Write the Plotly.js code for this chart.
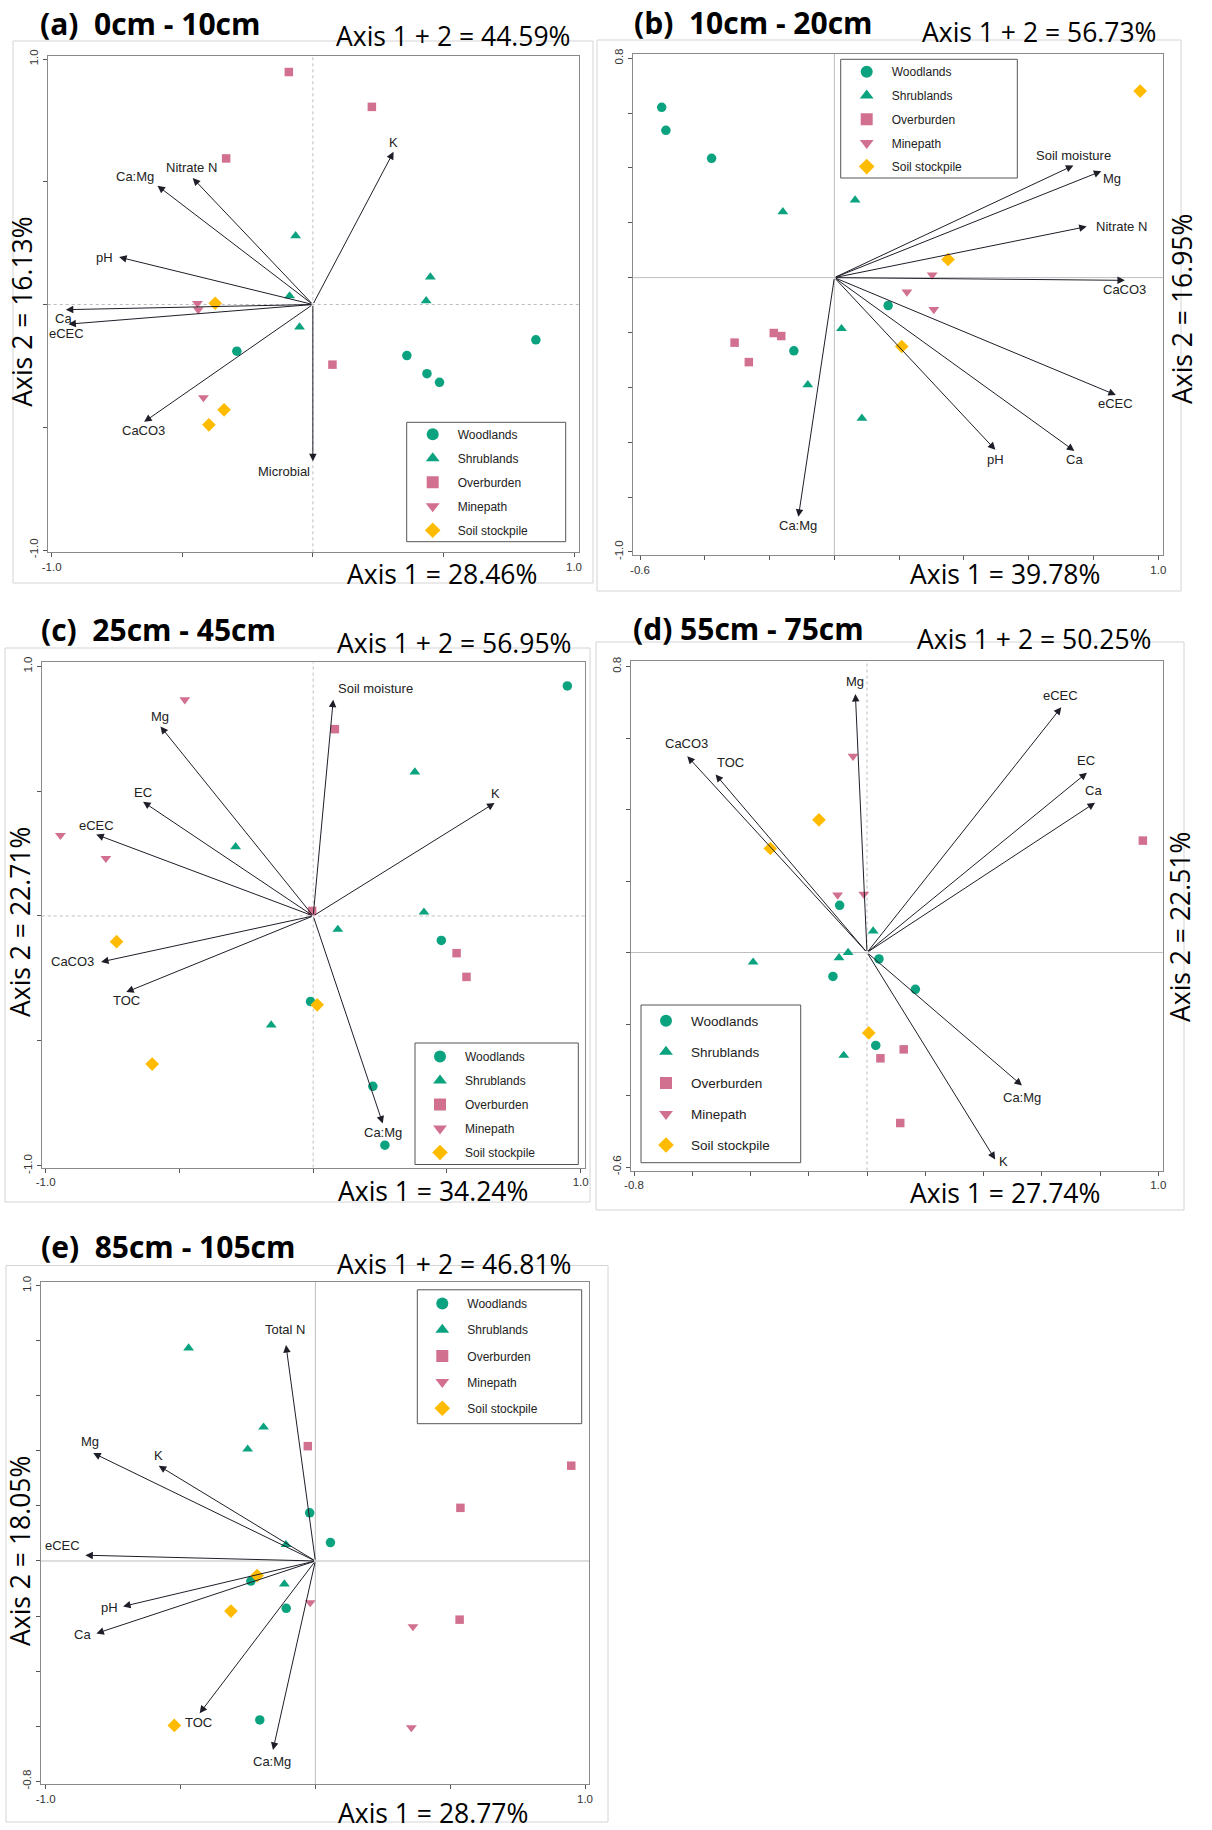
<!DOCTYPE html>
<html><head><meta charset="utf-8">
<script src="https://cdn.plot.ly/plotly-3.0.1.min.js"></script>
<style>body{margin:0;padding:0;background:#fff}</style>
</head><body><div id="chart" style="width:1212px;height:1830px"></div>
<script>
// ---------------- DATA ----------------
const groups = ['Woodlands','Shrublands','Overburden','Minepath','Soil stockpile'];

// Panel (a) 0cm - 10cm
const aTitle = '(a)\u00a0\u00a00cm - 10cm', aSum = 'Axis 1 + 2 = 44.59%', aAx1 = 'Axis 1 = 28.46%', aAx2 = 'Axis 2 = 16.13%';
const aWoodX = [0.854, 0.360, 0.437, 0.485, -0.291], aWoodY = [-0.144, -0.208, -0.282, -0.317, -0.190];
const aShrubX = [-0.066, -0.089, -0.051, 0.450, 0.434], aShrubY = [0.280, 0.035, -0.092, 0.112, 0.015];
const aOverX = [-0.092, -0.332, 0.226, 0.075], aOverY = [0.947, 0.595, 0.805, -0.245];
const aMineX = [-0.442, -0.439, -0.419], aMineY = [0.005, -0.021, -0.379];
const aStockX = [-0.374, -0.340, -0.398], aStockY = [0.005, -0.429, -0.490];
const aVars = ['Ca:Mg','Nitrate N','pH','Ca','eCEC','CaCO3','Microbial','K'];
const aVecX = [-0.595, -0.460, -0.742, -0.946, -0.936, -0.646, 0.000, 0.309];
const aVecY = [0.484, 0.515, 0.193, -0.021, -0.080, -0.478, -0.639, 0.622];
const aLabX = [-0.681, -0.464, -0.796, -0.955, -0.945, -0.649, -0.110, 0.309];
const aLabY = [0.521, 0.559, 0.193, -0.057, -0.118, -0.513, -0.680, 0.659];
const aXTicks = [-1, -0.5, 0, 0.5, 1], aXTickText = ['-1.0','','','','1.0'];
const aYTicks = [-1, -0.5, 0, 0.5, 1], aYTickText = ['-1.0','','','','1.0'];

// Panel (b) 10cm - 20cm
const bTitle = '(b)\u00a0\u00a010cm - 20cm', bSum = 'Axis 1 + 2 = 56.73%', bAx1 = 'Axis 1 = 39.78%', bAx2 = 'Axis 2 = 16.95%';
const bWoodX = [-0.533, -0.520, -0.379, 0.166, -0.125], bWoodY = [0.621, 0.537, 0.435, -0.102, -0.267];
const bShrubX = [-0.159, 0.064, 0.022, -0.082, 0.085], bShrubY = [0.240, 0.283, -0.186, -0.391, -0.513];
const bOverX = [-0.308, -0.187, -0.164, -0.264], bOverY = [-0.237, -0.202, -0.213, -0.308];
const bMineX = [0.302, 0.224, 0.307], bMineY = [0.010, -0.052, -0.116];
const bStockX = [0.944, 0.351, 0.208], bStockY = [0.680, 0.066, -0.251];
const bVars = ['Ca:Mg','Soil moisture','Mg','Nitrate N','CaCO3','eCEC','pH','Ca'];
const bVecX = [-0.111, 0.738, 0.824, 0.779, 0.897, 0.869, 0.497, 0.741];
const bVecY = [-0.872, 0.409, 0.388, 0.186, -0.010, -0.428, -0.628, -0.632];
const bLabX = [-0.113, 0.738, 0.858, 0.887, 0.897, 0.869, 0.497, 0.741];
const bLabY = [-0.904, 0.447, 0.363, 0.188, -0.042, -0.460, -0.663, -0.663];
const bXTicks = [-0.6, -0.4, -0.2, 0, 0.2, 0.4, 0.6, 0.8, 1.0], bXTickText = ['-0.6','','','','','','','','1.0'];
const bYTicks = [-1.0, -0.8, -0.6, -0.4, -0.2, 0, 0.2, 0.4, 0.6, 0.8], bYTickText = ['-1.0','','','','','','','','','0.8'];

// Panel (c) 25cm - 45cm
const cTitle = '(c)\u00a0\u00a025cm - 45cm', cSum = 'Axis 1 + 2 = 56.95%', cAx1 = 'Axis 1 = 34.24%', cAx2 = 'Axis 2 = 22.71%';
const cWoodX = [0.950, 0.479, -0.010, 0.223, 0.268], cWoodY = [0.921, -0.098, -0.343, -0.682, -0.918];
const cShrubX = [-0.290, -0.157, 0.380, 0.414, 0.092], cShrubY = [0.277, -0.437, 0.576, 0.015, -0.054];
const cOverX = [0.081, -0.004, 0.536, 0.573], cOverY = [0.748, 0.020, -0.149, -0.244];
const cMineX = [-0.480, -0.945, -0.775], cMineY = [0.866, 0.323, 0.231];
const cStockX = [-0.735, -0.602, 0.015], cStockY = [-0.103, -0.593, -0.356];
const cVars = ['Mg','EC','eCEC','CaCO3','TOC','Soil moisture','K','Ca:Mg'];
const cVecX = [-0.571, -0.636, -0.811, -0.793, -0.699, 0.075, 0.678, 0.260];
const cVecY = [0.759, 0.457, 0.326, -0.184, -0.305, 0.866, 0.452, -0.831];
const cLabX = [-0.573, -0.636, -0.811, -0.901, -0.699, 0.234, 0.680, 0.260];
const cLabY = [0.797, 0.495, 0.362, -0.184, -0.340, 0.909, 0.490, -0.866];
const cXTicks = [-1, -0.5, 0, 0.5, 1], cXTickText = ['-1.0','','','','1.0'];
const cYTicks = [-1, -0.5, 0, 0.5, 1], cYTickText = ['-1.0','','','','1.0'];

// Panel (d) 55cm - 75cm
const dTitle = '(d) 55cm - 75cm', dSum = 'Axis 1 + 2 = 50.25%', dAx1 = 'Axis 1 = 27.74%', dAx2 = 'Axis 2 = 22.51%';
const dWoodX = [-0.094, 0.041, -0.117, 0.030, 0.166], dWoodY = [0.132, -0.018, -0.067, -0.260, -0.103];
const dShrubX = [0.021, -0.065, -0.096, -0.391, -0.080], dShrubY = [0.060, 0.000, -0.015, -0.027, -0.288];
const dOverX = [0.947, 0.046, 0.126, 0.114], dOverY = [0.313, -0.296, -0.271, -0.477];
const dMineX = [-0.048, -0.101, -0.011], dMineY = [0.549, 0.161, 0.163];
const dStockX = [-0.165, -0.332, 0.006], dStockY = [0.371, 0.291, -0.225];
const dVars = ['Mg','CaCO3','TOC','eCEC','EC','Ca','Ca:Mg','K'];
const dVecX = [-0.040, -0.617, -0.520, 0.667, 0.755, 0.783, 0.532, 0.440];
const dVecY = [0.723, 0.549, 0.498, 0.686, 0.503, 0.419, -0.372, -0.579];
const dLabX = [-0.043, -0.621, -0.469, 0.663, 0.752, 0.778, 0.532, 0.469];
const dLabY = [0.759, 0.585, 0.531, 0.719, 0.536, 0.452, -0.405, -0.586];
const dXTicks = [-0.8, -0.6, -0.4, -0.2, 0, 0.2, 0.4, 0.6, 0.8, 1.0], dXTickText = ['-0.8','','','','','','','','','1.0'];
const dYTicks = [-0.6, -0.4, -0.2, 0, 0.2, 0.4, 0.6, 0.8], dYTickText = ['-0.6','','','','','','','0.8'];

// Panel (e) 85cm - 105cm
const eTitle = '(e)\u00a0\u00a085cm - 105cm', eSum = 'Axis 1 + 2 = 46.81%', eAx1 = 'Axis 1 = 28.77%', eAx2 = 'Axis 2 = 18.05%';
const eWoodX = [-0.021, 0.056, -0.239, -0.108, -0.206], eWoodY = [0.175, 0.067, -0.073, -0.172, -0.577];
const eShrubX = [-0.470, -0.192, -0.251, -0.109, -0.115], eShrubY = [0.773, 0.486, 0.406, 0.059, -0.084];
const eOverX = [-0.028, 0.949, 0.538, 0.535], eOverY = [0.417, 0.346, 0.193, -0.213];
const eMineX = [-0.019, 0.362, 0.356], eMineY = [-0.151, -0.238, -0.605];
const eStockX = [-0.216, -0.313, -0.523], eStockY = [-0.053, -0.182, -0.597];
const eVars = ['Total N','Mg','K','eCEC','pH','Ca','TOC','Ca:Mg'];
const eVecX = [-0.109, -0.824, -0.581, -0.853, -0.713, -0.812, -0.429, -0.157];
const eVecY = [0.784, 0.392, 0.346, 0.021, -0.165, -0.263, -0.553, -0.686];
const eLabX = [-0.114, -0.834, -0.581, -0.939, -0.765, -0.864, -0.435, -0.161];
const eLabY = [0.840, 0.434, 0.382, 0.056, -0.168, -0.266, -0.588, -0.728];
const eXTicks = [-1, -0.5, 0, 0.5, 1], eXTickText = ['-1.0','','','','1.0'];
const eYTicks = [-0.8, -0.6, -0.4, -0.2, 0, 0.2, 0.4, 0.6, 0.8, 1.0], eYTickText = ['-0.8','','','','','','','','','1.0'];

// ---------------- STYLE / LAYOUT ----------------
const W = 1212, H = 1830;
const PX = v => v / W, PY = v => 1 - v / H;
const symbols = ['circle','triangle-up','square','triangle-down','diamond'];
const colors = ['#0ba37f','#0ba37f','#d2708f','#d2708f','#ffbb00'];
const msizes = [9.5, 9.5, 8.5, 9.5, 10.5];
const SMALL = 'Liberation Sans, Arial, sans-serif';
const BIG = 'Open Sans, Noto Sans, sans-serif';

const panels = [
  {title:aTitle, sum:aSum, ax1:aAx1, ax2:aAx2, pts:[[aWoodX,aWoodY],[aShrubX,aShrubY],[aOverX,aOverY],[aMineX,aMineY],[aStockX,aStockY]],
   vars:aVars, vx:aVecX, vy:aVecY, lx:aLabX, ly:aLabY, xt:aXTicks, xtt:aXTickText, yt:aYTicks, ytt:aYTickText,
   g:{L:47.7,R:579,T:55.7,B:552.3, xc:[-1,51.7,1,574], yc:[1,59,-1,550], box:[13,41,593,583], ttl:[38,24], sm:[572,36], a1:[442,574], a2:[21.7,312],
      leg:[407.7,419.8], lbox:[406.7,422.3,565.7,541.7], lgap:5, lfont:12, dash:'dot', dashv:'dot'}},
  {title:bTitle, sum:bSum, ax1:bAx1, ax2:bAx2, pts:[[bWoodX,bWoodY],[bShrubX,bShrubY],[bOverX,bOverY],[bMineX,bMineY],[bStockX,bStockY]],
   vars:bVars, vx:bVecX, vy:bVecY, lx:bLabX, ly:bLabY, xt:bXTicks, xtt:bXTickText, yt:bYTicks, ytt:bYTickText,
   g:{L:632.7,R:1163.3,T:53.6,B:555, xc:[-0.6,640,1,1158.3], yc:[0.8,58.2,-1,551.9], box:[597,40,1181,591], ttl:[631.7,23], sm:[1158,32.5], a1:[1005,574], a2:[1182,309],
      leg:[841.7,57.3], lbox:[840.7,59.3,1017.3,178], lgap:4.7, lfont:12, dash:'solid', dashv:'solid'}},
  {title:cTitle, sum:cSum, ax1:cAx1, ax2:cAx2, pts:[[cWoodX,cWoodY],[cShrubX,cShrubY],[cOverX,cOverY],[cMineX,cMineY],[cStockX,cStockY]],
   vars:cVars, vx:cVecX, vy:cVecY, lx:cLabX, ly:cLabY, xt:cXTicks, xtt:cXTickText, yt:cYTicks, ytt:cYTickText,
   g:{L:41.7,R:585,T:662.4,B:1167.6, xc:[-1,45.7,1,580.7], yc:[1,666.2,-1,1165.7], box:[5,648,590,1202], ttl:[39,630], sm:[573,643], a1:[432.5,1190.6], a2:[20,922],
      leg:[415,1042], lbox:[415,1043,578.3,1164.5], lgap:5, lfont:12, dash:'dot', dashv:'dot'}},
  {title:dTitle, sum:dSum, ax1:dAx1, ax2:dAx2, pts:[[dWoodX,dWoodY],[dShrubX,dShrubY],[dOverX,dOverY],[dMineX,dMineY],[dStockX,dStockY]],
   vars:dVars, vx:dVecX, vy:dVecY, lx:dLabX, ly:dLabY, xt:dXTicks, xtt:dXTickText, yt:dYTicks, ytt:dYTickText,
   g:{L:630.7,R:1162.7,T:661.4,B:1170.5, xc:[-0.8,634,1,1158.3], yc:[0.8,666.5,-0.6,1167], box:[596,642,1184,1210], ttl:[630.7,628], sm:[1153,639], a1:[1004.5,1192.5], a2:[1180,927],
      leg:[641,1005.5], lbox:[641,1005,800.7,1162.7], lgap:10.5, lfont:13.5, dash:'solid', dashv:'dot'}},
  {title:eTitle, sum:eSum, ax1:eAx1, ax2:eAx2, pts:[[eWoodX,eWoodY],[eShrubX,eShrubY],[eOverX,eOverY],[eMineX,eMineY],[eStockX,eStockY]],
   vars:eVars, vx:eVecX, vy:eVecY, lx:eLabX, ly:eLabY, xt:eXTicks, xtt:eXTickText, yt:eYTicks, ytt:eYTickText,
   g:{L:40.7,R:589.3,T:1282.1,B:1784.4, xc:[-1,45.7,1,585], yc:[1,1285.6,-0.8,1781.3], box:[6,1265.5,608,1822], ttl:[39,1246], sm:[573,1263.6], a1:[433,1813], a2:[20,1551],
      leg:[417.3,1289], lbox:[417.3,1289.8,581.7,1423.7], lgap:7.2, lfont:12, dash:'solid', dashv:'solid'}}
];

const traces = [];
const layout = {
  width: W, height: H, margin: {l:0, r:0, t:0, b:0},
  paper_bgcolor: '#ffffff', plot_bgcolor: '#ffffff',
  showlegend: true, hovermode: false,
  annotations: [], shapes: []
};

panels.forEach((p, i) => {
  const k = i === 0 ? '' : String(i + 1);
  const xid = 'x' + k, yid = 'y' + k;
  const legId = i === 0 ? 'legend' : 'legend' + (i + 1);
  const g = p.g;
  // axis ranges from tick calibration
  const ux = (g.xc[3] - g.xc[1]) / (g.xc[2] - g.xc[0]);
  const uy = (g.yc[3] - g.yc[1]) / (g.yc[0] - g.yc[2]);
  const xr = [g.xc[0] - (g.xc[1] - g.L) / ux, g.xc[2] + (g.R - g.xc[3]) / ux];
  const yr = [g.yc[2] - (g.B - g.yc[3]) / uy, g.yc[0] + (g.yc[1] - g.T) / uy];
  const axCommon = {
    showgrid: false, zeroline: false, showline: true, mirror: true,
    linecolor: '#8a8a8a', linewidth: 1, ticks: 'outside', ticklen: 4, tickwidth: 1, tickcolor: '#555',
    tickfont: {family: SMALL, size: 11.5, color: '#333'}, fixedrange: true
  };
  layout['xaxis' + k] = Object.assign({}, axCommon, {
    domain: [PX(g.L), PX(g.R)], range: xr, anchor: yid,
    tickmode: 'array', tickvals: p.xt, ticktext: p.xtt, tickangle: 0
  });
  layout['yaxis' + k] = Object.assign({}, axCommon, {
    domain: [PY(g.B), PY(g.T)], range: yr, anchor: xid,
    tickmode: 'array', tickvals: p.yt, ticktext: p.ytt, tickangle: -90
  });
  // zero lines
  layout.shapes.push({type:'line', xref: xid + ' domain', yref: yid, x0:0, x1:1, y0:0, y1:0,
    line:{color:'#bdbdbd', width:1, dash:g.dash}, layer:'below'});
  layout.shapes.push({type:'line', xref: xid, yref: yid + ' domain', x0:0, x1:0, y0:0, y1:1,
    line:{color:'#bdbdbd', width:1, dash:g.dashv}, layer:'below'});
  // outer panel box
  layout.shapes.push({type:'rect', xref:'paper', yref:'paper', x0:PX(g.box[0]), x1:PX(g.box[2]), y0:PY(g.box[3]), y1:PY(g.box[1]),
    line:{color:'#d4d4d4', width:1}, fillcolor:'rgba(0,0,0,0)', layer:'below'});
  // legend frame
  layout.shapes.push({type:'rect', xref:'paper', yref:'paper', x0:PX(g.lbox[0]), x1:PX(g.lbox[2]), y0:PY(g.lbox[3]), y1:PY(g.lbox[1]),
    line:{color:'#555', width:1}, fillcolor:'#ffffff', layer:'above'});
  // points
  p.pts.forEach((pt, j) => {
    traces.push({
      type:'scatter', mode:'markers', x: pt[0], y: pt[1], xaxis: xid, yaxis: yid,
      name: groups[j], legend: legId, legendgroup: 'p' + i + 'g' + j,
      marker: {symbol: symbols[j], color: colors[j], size: msizes[j], line:{width:0}},
      cliponaxis: false
    });
  });
  // legend
  layout[legId] = {
    x: PX(g.leg[0]), y: PY(g.leg[1]), xref:'paper', yref:'paper', xanchor:'left', yanchor:'top',
    bgcolor:'rgba(0,0,0,0)', bordercolor:'#555', borderwidth:0,
    font:{family: SMALL, size: g.lfont, color:'#222'},
    tracegroupgap: g.lgap, itemsizing:'constant', itemwidth: 40, traceorder:'grouped'
  };
  // arrows
  p.vars.forEach((v, j) => {
    layout.annotations.push({
      xref: xid, yref: yid, axref: xid, ayref: yid,
      x: p.vx[j], y: p.vy[j], ax: 0, ay: 0, text: '', showarrow: true,
      arrowhead: 2, arrowsize: 1.5, arrowwidth: 1, arrowcolor: '#1e1e28', standoff: 0, startstandoff: 0
    });
    layout.annotations.push({
      xref: xid, yref: yid, x: p.lx[j], y: p.ly[j], text: v, showarrow: false,
      xanchor: 'center', yanchor: 'middle', font: {family: SMALL, size: 13, color: '#222'}
    });
  });
  // texts
  layout.annotations.push({xref:'paper', yref:'paper', x:PX(g.ttl[0]), y:PY(g.ttl[1]), xanchor:'left', yanchor:'middle',
    text:'<b>' + p.title + '</b>', showarrow:false, font:{family:BIG, size:30, color:'#000'}});
  layout.annotations.push({xref:'paper', yref:'paper', x:PX(g.sm[0]), y:PY(g.sm[1]), xanchor:'right', yanchor:'middle',
    text:p.sum, showarrow:false, font:{family:BIG, size:26.5, color:'#000'}});
  layout.annotations.push({xref:'paper', yref:'paper', x:PX(g.a1[0]), y:PY(g.a1[1]), xanchor:'center', yanchor:'middle',
    text:p.ax1, showarrow:false, font:{family:BIG, size:26.5, color:'#000'}});
  layout.annotations.push({xref:'paper', yref:'paper', x:PX(g.a2[0]), y:PY(g.a2[1]), xanchor:'center', yanchor:'middle',
    text:p.ax2, textangle:-90, showarrow:false, font:{family:BIG, size:26.5, color:'#000'}});
});

Plotly.newPlot('chart', traces, layout, {staticPlot: true, displayModeBar: false});
</script>
</body></html>
